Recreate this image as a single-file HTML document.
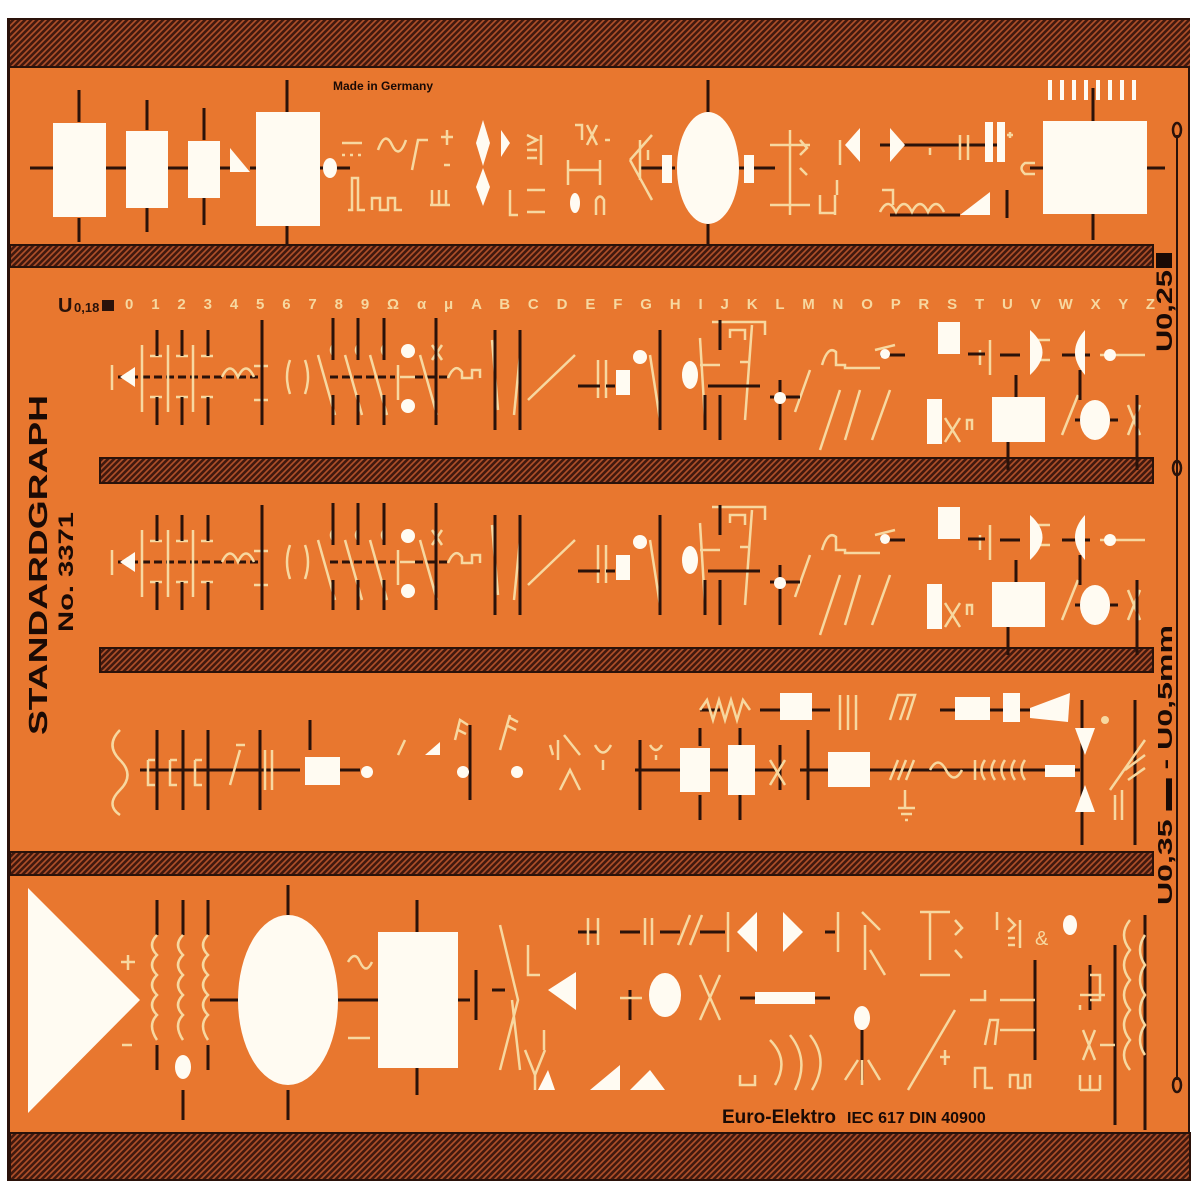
<!DOCTYPE html>
<html><head><meta charset="utf-8"><style>
html,body{margin:0;padding:0;background:#fff;}
svg{display:block}
text{font-family:"Liberation Sans",sans-serif;}
</style></head><body>
<svg width="1200" height="1200" viewBox="0 0 1200 1200" xmlns="http://www.w3.org/2000/svg">
<defs>
<pattern id="h" width="6" height="6" patternUnits="userSpaceOnUse">
<rect width="6" height="6" fill="#42190e"/>
<path d="M0 6 L6 0 M-1 1 L1 -1 M5 7 L7 5" stroke="#b0502a" stroke-width="1.6"/>
</pattern>
<g id="row">
 <path d="M118 377 H260 M330 377 H395 M415 377 H450" stroke="#2a120a" stroke-width="3" stroke-dasharray="8 4"/>
 <polygon points="120,377 135,367 135,387" fill="#fffbf2"/>
 <g stroke="#f7d8a0" stroke-width="2.5" fill="none">
  <path d="M112 365 V390 M142 345 V412 M168 345 V412 M193 345 V412 M150 356 H162 M176 356 H188 M201 356 H213 M150 397 H162 M176 397 H188 M201 397 H213"/>
  <path d="M222 377 Q230 360 238 377 Q246 360 254 377"/>
  <path d="M254 366 H268 M254 400 H268 M290 360 Q284 377 290 394 M305 360 Q311 377 305 394"/>
  <path d="M318 355 L335 415 M345 355 L362 415 M370 355 L387 415 M333 345 Q329 350 333 355 M358 345 Q354 350 358 355 M384 345 Q380 350 384 355"/>
  <path d="M398 365 V400 M400 377 H415 M420 355 L437 415 M432 345 L442 360 M442 345 L432 360"/>
  <path d="M448 378 Q455 362 462 372 V378 H472 V370 H480 V378"/>
  <path d="M492 340 L498 410 M520 355 L514 415 M528 400 L575 355"/>
  <path d="M598 360 V398 M606 360 V398 M650 355 L660 420 M700 338 L705 420 M712 322 H765 V335 M730 338 V330 H745 V340 M752 325 L745 420 M720 365 H700 M740 362 H748"/>
  <path d="M795 412 L810 370 M820 450 L840 390 M845 440 L860 390 M872 440 L890 390 M875 350 L895 345"/>
  <path d="M822 365 Q828 345 836 352 V365 H845 V368 H880 M960 418 L945 442 M945 418 L960 442 M967 430 V420 H972 V430 M1062 435 L1078 395 M1128 405 L1140 435 M1140 405 L1128 435 M1100 355 H1145 M1034 340 H1050 M1034 360 H1050 M990 340 V375 M980 350 V365"/>
 </g>
 <g stroke="#2a120a" stroke-width="3" fill="none">
  <path d="M157 330 V356 M182 330 V356 M208 330 V356 M157 397 V425 M182 397 V425 M208 397 V425 M262 320 V425 M333 318 V360 M358 318 V360 M384 318 V360 M333 395 V425 M358 395 V425 M384 395 V425 M436 318 V425 M495 330 V430 M520 330 V430"/>
  <path d="M578 386 H600 M606 386 H615 M660 330 V430 M705 395 V430 M720 320 V350 M708 386 H760 M780 380 V440 M720 395 V440 M770 397 H800 M880 355 H905 M968 354 H985 M1000 355 H1020 M1062 355 H1075 M1085 355 H1090 M1016 375 V400 M1008 405 V470 M1080 370 V400 M1075 420 H1085 M1110 420 H1118 M1137 395 V470"/>
 </g>
 <g fill="#fffbf2">
  <circle cx="408" cy="351" r="7"/><circle cx="408" cy="406" r="7"/>
  <rect x="616" y="370" width="14" height="25"/>
  <circle cx="640" cy="357" r="7"/>
  <ellipse cx="690" cy="375" rx="8" ry="14"/>
  <circle cx="780" cy="398" r="6"/>
  <circle cx="885" cy="354" r="5"/>
  <rect x="938" y="322" width="22" height="32"/>
  <rect x="927" y="399" width="15" height="45"/>
  <rect x="992" y="397" width="53" height="45"/>
  <ellipse cx="1095" cy="420" rx="15" ry="20"/>
  <path d="M1030 330 Q1055 352 1030 375 Z"/>
  <path d="M1085 330 Q1065 352 1085 375 Z"/>
  <circle cx="1110" cy="355" r="6"/>
 </g>
</g>
</defs>
<rect x="7" y="18" width="1183" height="1163" fill="#2a120a"/>
<rect x="10" y="20" width="1178" height="1158" fill="#e8772f"/>
<rect x="10" y="20" width="1180" height="47" fill="url(#h)"/>
<rect x="10" y="245" width="1143" height="22" fill="url(#h)" stroke="#2a120a" stroke-width="2"/>
<rect x="100" y="458" width="1053" height="25" fill="url(#h)" stroke="#2a120a" stroke-width="2"/>
<rect x="100" y="648" width="1053" height="24" fill="url(#h)" stroke="#2a120a" stroke-width="2"/>
<rect x="10" y="852" width="1143" height="23" fill="url(#h)" stroke="#2a120a" stroke-width="2"/>
<rect x="10" y="1133" width="1180" height="47" fill="url(#h)" stroke="#2a120a" stroke-width="2"/>
<line x1="10" y1="67" x2="1190" y2="67" stroke="#2a120a" stroke-width="2"/>

<g stroke="#2a120a" stroke-width="3">
 <path d="M30 168 H53 M106 168 H126 M168 168 H188 M220 168 H230 M250 168 H256 M320 168 H350 M79 90 V122 M79 218 V242 M147 100 V130 M147 208 V232 M204 108 V140 M204 198 V225 M287 80 V112 M287 226 V245 M708 80 V112 M708 224 V245 M735 168 H775 M640 168 H675 M1093 88 V121 M1093 214 V240 M1030 168 H1043 M1147 168 H1165 M880 145 H1000 M890 215 H960 M1007 190 V218"/>
</g>
<g fill="#fffbf2">
 <rect x="53" y="123" width="53" height="94"/>
 <rect x="126" y="131" width="42" height="77"/>
 <rect x="188" y="141" width="32" height="57"/>
 <polygon points="230,148 230,172 250,172"/>
 <rect x="256" y="112" width="64" height="114"/>
 <ellipse cx="330" cy="168" rx="7" ry="10"/>
 <ellipse cx="708" cy="168" rx="31" ry="56"/>
 <rect x="662" y="155" width="10" height="28"/>
 <rect x="744" y="155" width="10" height="28"/>
 <polygon points="483,120 476,143 483,166 490,143"/>
 <polygon points="483,168 476,187 483,206 490,187"/>
 <polygon points="501,130 510,143 501,157"/>
 <polygon points="845,145 860,128 860,162"/>
 <polygon points="890,128 905,145 890,162"/>
 <rect x="985" y="122" width="8" height="40"/>
 <rect x="997" y="122" width="8" height="40"/>
 <polygon points="960,215 990,192 990,215"/>
 <rect x="1043" y="121" width="104" height="93"/>
 <g><rect x="1048" y="80" width="4" height="20"/><rect x="1060" y="80" width="4" height="20"/><rect x="1072" y="80" width="4" height="20"/><rect x="1084" y="80" width="4" height="20"/><rect x="1096" y="80" width="4" height="20"/><rect x="1108" y="80" width="4" height="20"/><rect x="1120" y="80" width="4" height="20"/><rect x="1132" y="80" width="4" height="20"/></g>
 <ellipse cx="575" cy="203" rx="5" ry="10"/>
</g>
<g stroke="#f7d8a0" stroke-width="2.5" fill="none">
 <path d="M342 143 H362 M342 155 H345 M350 155 H353 M358 155 H361 M348 210 H352 V178 H358 V210 H365 M372 210 V198 H380 V210 H388 V198 H395 V210 H402"/>
 <path d="M378 150 Q385 130 392 145 Q399 160 406 140 M412 170 L418 140 H428 M447 130 V145 M441 137 H453 M444 165 H450 M432 205 V190 M439 205 V190 M446 205 V190 M430 205 H450"/>
 <path d="M527 135 L537 140 L527 145 M527 150 H537 M527 158 H537 M541 135 V165 M510 190 V215 H518 M527 190 H545 M527 212 H545"/>
 <path d="M575 125 H582 V140 M587 125 L597 145 M597 125 L587 145 M605 140 H610 M568 160 V185 M568 170 H600 M600 160 V185 M596 215 V200 Q600 193 604 200 V215"/>
 <path d="M630 160 L652 135 M630 160 L652 200 M640 140 V180 M648 160 V150"/>
 <path d="M770 145 H810 M770 205 H810 M790 130 V215 M800 140 L807 148 L800 155 M800 168 L807 175 M820 195 V213 H835 M835 215 V195 M837 180 V195 M840 140 V165 M880 212 Q888 196 896 212 Q904 196 912 212 Q920 196 928 212 Q936 196 944 212 M882 190 H893 V205 M930 155 V148 M960 135 V160 M968 135 V160 M1010 132 V138 M1007 135 H1013 M1035 163 H1025 Q1018 168 1025 174 H1035"/>
</g>
<text x="333" y="90" font-size="12" font-weight="bold" fill="#1a0a05">Made in Germany</text>

<text x="58" y="312" font-size="20" font-weight="bold" fill="#2a120a">U</text>
<text x="74" y="312" font-size="13" font-weight="bold" fill="#2a120a">0,18</text>
<rect x="102" y="300" width="12" height="11" fill="#2a120a"/>
<text x="125" y="309" font-size="15" font-weight="bold" fill="#f7d8a0" textLength="1030">0 1 2 3 4 5 6 7 8 9 Ω α μ A B C D E F G H I J K L M N O P R S T U V W X Y Z</text>
<use href="#row"/>
<use href="#row" transform="translate(0,185)"/>

<g stroke="#2a120a" stroke-width="3">
 <path d="M140 770 H300 M340 770 H360 M635 770 H680 M710 770 H728 M755 770 H775 M800 770 H828 M870 770 H1080 M700 710 H720 M760 710 H780 M812 710 H830 M940 710 H955 M990 710 H1003 M1020 710 H1030 M157 730 V810 M183 730 V810 M208 730 V810 M260 730 V810 M310 720 V750 M470 725 V800 M640 740 V810 M700 728 V746 M700 795 V820 M740 728 V746 M740 795 V820 M780 745 V790 M808 730 V800 M1082 700 V845 M1135 700 V845"/>
</g>
<g fill="#fffbf2">
 <rect x="305" y="757" width="35" height="28"/>
 <rect x="680" y="748" width="30" height="44"/>
 <rect x="728" y="745" width="27" height="50"/>
 <rect x="828" y="752" width="42" height="35"/>
 <rect x="780" y="693" width="32" height="27"/>
 <rect x="955" y="697" width="35" height="23"/>
 <rect x="1003" y="693" width="17" height="29"/>
 <polygon points="1030,708 1070,693 1068,722 1030,718"/>
 <rect x="1045" y="765" width="30" height="12"/>
 <polygon points="1075,728 1095,728 1085,755"/>
 <polygon points="1085,785 1075,812 1095,812"/>
 <circle cx="367" cy="772" r="6"/>
 <circle cx="463" cy="772" r="6"/>
 <circle cx="517" cy="772" r="6"/>
 <polygon points="425,755 440,742 440,755"/>
</g>
<g stroke="#f7d8a0" stroke-width="2.5" fill="none">
 <path d="M120 730 Q105 745 120 760 Q135 775 120 790 Q105 805 120 815 M148 760 V785 H155 M170 760 V785 H177 M195 760 V785 H202 M148 760 H155 M170 760 H177 M195 760 H202 M230 785 L240 750 M236 745 H245 M265 750 V790 M272 750 V790"/>
 <path d="M398 755 L405 740 M455 740 L460 720 L468 725 M458 730 L466 734 M500 750 L510 715 M510 718 L518 722 M508 726 L516 730 M550 745 L553 755 M558 740 V760 M564 735 L580 755 M560 790 L570 770 L580 790 M595 745 Q603 760 611 745 M603 760 V770 M650 745 Q656 755 662 745 M656 755 V760 M770 760 L785 785 M785 760 L770 785"/>
 <path d="M700 710 L707 700 L713 720 L719 700 L725 720 L731 700 L737 720 L743 700 L750 710 M840 695 V730 M848 695 V730 M856 695 V730 M890 720 L898 695 H915 L907 720 M900 720 L908 697 M890 780 L898 760 M898 780 L906 760 M906 780 L914 760 M905 790 V808 M898 808 H915 M901 814 H912 M905 820 H908 M930 770 Q938 755 946 770 Q954 785 962 770 M975 760 V780 M985 760 Q978 770 985 780 M995 760 Q988 770 995 780 M1005 760 Q998 770 1005 780 M1015 760 Q1008 770 1015 780 M1025 760 Q1018 770 1025 780 M1110 790 L1145 740 M1115 795 V820 M1122 790 V820 M1125 770 L1145 755 M1128 780 L1145 768"/>
</g>
<circle cx="1105" cy="720" r="4" fill="#f7d8a0"/>

<g stroke="#2a120a" stroke-width="3">
 <path d="M157 900 V935 M183 900 V935 M208 900 V935 M157 1045 V1070 M183 1090 V1120 M208 1045 V1070 M210 1000 H238 M338 1000 H378 M288 885 V915 M288 1090 V1120 M417 900 V932 M417 1068 V1095 M457 1000 H470 M492 990 H505 M476 970 V1020 M578 932 H598 M620 932 H640 M660 932 H680 M700 932 H725 M825 932 H835 M630 990 V1020 M740 998 H758 M815 998 H830 M862 1030 V1080 M1035 960 V1060 M1090 965 V1010 M1115 945 V1125 M1145 915 V1130"/>
</g>
<g fill="#fffbf2">
 <polygon points="28,888 28,1113 140,1000"/>
 <ellipse cx="288" cy="1000" rx="50" ry="85"/>
 <rect x="378" y="932" width="80" height="136"/>
 <ellipse cx="183" cy="1067" rx="8" ry="12"/>
 <polygon points="548,990 576,972 576,1010"/>
 <ellipse cx="665" cy="995" rx="16" ry="22"/>
 <polygon points="737,932 757,912 757,952"/>
 <polygon points="783,912 803,932 783,952"/>
 <rect x="755" y="992" width="60" height="12"/>
 <ellipse cx="862" cy="1018" rx="8" ry="12"/>
 <polygon points="590,1090 620,1065 620,1090"/>
 <polygon points="630,1090 650,1070 665,1090"/>
 <polygon points="538,1090 548,1070 555,1090"/>
 <ellipse cx="1070" cy="925" rx="7" ry="10"/>
</g>
<g stroke="#f7d8a0" stroke-width="2.5" fill="none">
 <path d="M128 955 V970 M121 962 H135 M122 1045 H132"/>
 <path d="M157 935 Q147 945 157 955 Q147 965 157 975 Q147 985 157 995 Q147 1005 157 1015 Q147 1025 157 1040 M183 935 Q173 945 183 955 Q173 965 183 975 Q173 985 183 995 Q173 1005 183 1015 Q173 1025 183 1040 M208 935 Q198 945 208 955 Q198 965 208 975 Q198 985 208 995 Q198 1005 208 1015 Q198 1025 208 1040"/>
 <path d="M348 962 Q355 950 360 962 Q366 975 372 962 M348 1038 H370"/>
 <path d="M500 925 L518 1000 L500 1070 M512 1000 L520 1070 M528 945 V975 H540 M525 1050 L535 1075 L545 1050 M535 1075 V1090 M544 1030 V1050"/>
 <path d="M588 918 V945 M598 918 V945 M645 918 V945 M652 918 V945 M678 945 L690 915 M690 945 L702 915 M728 912 V952 M838 912 V952 M620 998 H642 M700 975 L720 1020 M720 975 L700 1020 M770 1040 Q790 1060 775 1085 M790 1035 Q810 1060 795 1090 M810 1035 Q830 1060 812 1090 M740 1075 V1085 H755 V1075 M845 1080 L858 1060 M862 1085 V1060 M880 1080 L868 1060"/>
 <path d="M862 912 L880 930 M865 925 V970 M870 950 L885 975 M908 1090 L955 1010 M945 1050 V1065 M940 1057 H950 M975 1088 V1068 H985 V1088 H993 M985 1045 L990 1020 H998 L995 1045 M1010 1088 V1075 H1018 V1088 H1025 V1075 H1030 V1088 M1000 1000 H1035 M1000 1030 H1035 M1080 1090 V1075 M1090 1090 V1075 M1100 1090 V1075 M1080 1090 H1100"/>
 <path d="M920 912 H950 M930 912 V960 M920 975 H950 M955 920 L962 928 L955 935 M955 950 L962 958 M970 1000 H985 V990 M997 912 V930 M1008 918 L1015 925 L1008 932 M1008 938 H1015 M1008 945 H1015 M1020 920 V948 M1090 975 H1100 V1000 H1090 M1080 995 H1105 M1080 1005 V1010 M1083 1030 L1095 1060 M1095 1030 L1083 1060 M1100 1045 H1115 M1130 920 Q1118 935 1130 950 Q1118 965 1130 980 Q1118 995 1130 1010 Q1118 1025 1130 1040 Q1118 1055 1130 1070 M1145 935 Q1135 950 1145 965 Q1135 980 1145 995 Q1135 1010 1145 1025 Q1135 1040 1145 1055"/>
</g>
<text x="1035" y="945" font-size="20" fill="#f7d8a0">&amp;</text>
<text x="722" y="1123" font-size="19" font-weight="bold" fill="#1a0a05">Euro-Elektro</text>
<text x="847" y="1123" font-size="16" font-weight="bold" fill="#1a0a05">IEC 617  DIN 40900</text>

<text transform="translate(47,735) rotate(-90)" font-size="26" font-weight="bold" fill="#1a0a05" textLength="340" lengthAdjust="spacingAndGlyphs">STANDARDGRAPH</text>
<text transform="translate(73,632) rotate(-90)" font-size="21" font-weight="bold" fill="#1a0a05" textLength="120" lengthAdjust="spacingAndGlyphs">No. 3371</text>

<text transform="translate(1172,352) rotate(-90)" font-size="22" font-weight="bold" fill="#1a0a05" textLength="82" lengthAdjust="spacingAndGlyphs">U0,25</text>
<rect x="1156" y="253" width="16" height="15" fill="#1a0a05"/>
<text transform="translate(1172,905) rotate(-90)" font-size="20" font-weight="bold" fill="#1a0a05" textLength="280" lengthAdjust="spacingAndGlyphs">U0,35 ▬ - U0,5mm</text>

<line x1="1177" y1="135" x2="1177" y2="1080" stroke="#2a120a" stroke-width="2"/>
<ellipse cx="1177" cy="130" rx="4" ry="7" fill="none" stroke="#2a120a" stroke-width="2.5"/>
<ellipse cx="1177" cy="468" rx="4" ry="7" fill="none" stroke="#2a120a" stroke-width="2.5"/>
<ellipse cx="1177" cy="1085" rx="4" ry="7" fill="none" stroke="#2a120a" stroke-width="2.5"/>
</svg>
</body></html>
